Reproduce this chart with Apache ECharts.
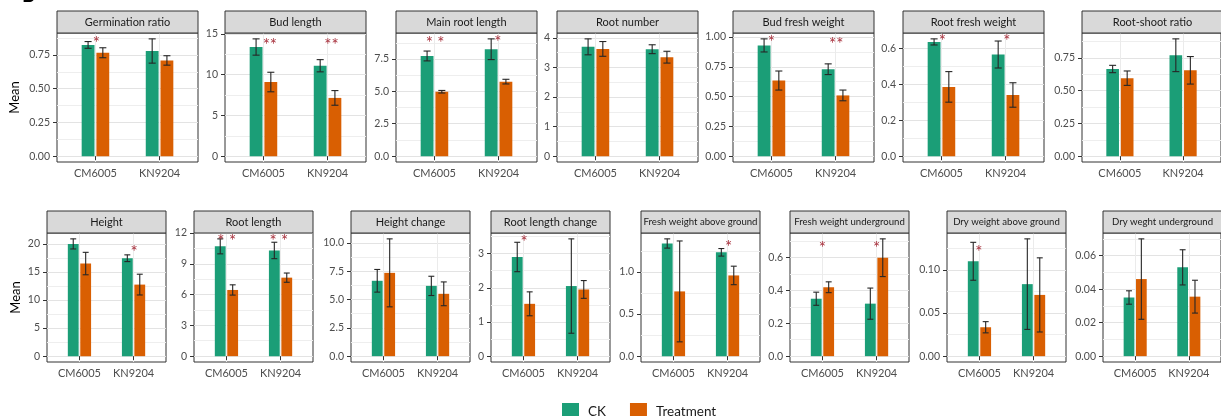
<!DOCTYPE html>
<html><head><meta charset="utf-8">
<script src="https://cdn.jsdelivr.net/npm/echarts@6/dist/echarts.min.js"></script>
<style>html,body{margin:0;padding:0;background:#fff}#c{width:1221px;height:416px}</style>
</head><body><div id="c"></div>
<script>
// ---------------- data ----------------
const categories = ['CM6005', 'KN9204'];
const groups = ['CK', 'Treatment'];
const panelTitles = ['Germination ratio', 'Bud length', 'Main root length', 'Root number', 'Bud fresh weight',
  'Root fresh weight', 'Root-shoot ratio', 'Height', 'Root length', 'Height change', 'Root length change',
  'Fresh weight above ground', 'Fresh weight underground', 'Dry weight above ground', 'Dry weght underground'];
const ckMean = [[0.825, 0.78], [13.4, 11.1], [7.73, 8.25], [3.70, 3.62], [0.93, 0.73], [0.635, 0.565], [0.665, 0.77],
  [20.0, 17.45], [10.7, 10.3], [6.65, 6.2], [2.9, 2.05], [1.34, 1.235], [0.35, 0.32], [0.11, 0.0835], [0.035, 0.053]];
const ckSE = [[0.025, 0.09], [1.0, 0.75], [0.38, 0.8], [0.27, 0.15], [0.055, 0.045], [0.017, 0.075], [0.028, 0.125],
  [0.9, 0.6], [0.73, 0.8], [1.0, 0.85], [0.43, 1.38], [0.055, 0.045], [0.04, 0.095], [0.022, 0.0525], [0.004, 0.0105]];
const trtMean = [[0.767, 0.71], [9.1, 7.15], [4.97, 5.75], [3.63, 3.35], [0.635, 0.51], [0.385, 0.34], [0.595, 0.655],
  [16.5, 12.75], [6.45, 7.65], [7.35, 5.5], [1.53, 1.95], [0.77, 0.96], [0.42, 0.6], [0.0335, 0.071], [0.046, 0.0355]];
const trtSE = [[0.037, 0.035], [1.2, 0.9], [0.1, 0.18], [0.25, 0.2], [0.08, 0.045], [0.085, 0.068], [0.055, 0.105],
  [2.0, 1.85], [0.5, 0.45], [3.0, 1.05], [0.35, 0.26], [0.6, 0.11], [0.033, 0.115], [0.0065, 0.043], [0.024, 0.0098]];
const tickValues = [[0, 0.25, 0.5, 0.75], [0, 5, 10, 15], [0, 2.5, 5, 7.5], [0, 1, 2, 3, 4], [0, 0.25, 0.5, 0.75, 1],
  [0, 0.2, 0.4, 0.6], [0, 0.25, 0.5, 0.75], [0, 5, 10, 15, 20], [0, 3, 6, 9, 12], [0, 2.5, 5, 7.5, 10], [0, 1, 2, 3],
  [0, 0.5, 1], [0, 0.2, 0.4, 0.6], [0, 0.05, 0.1], [0, 0.02, 0.04, 0.06]];
const tickLabels = [['0.00', '0.25', '0.50', '0.75'], ['0', '5', '10', '15'], ['0.0', '2.5', '5.0', '7.5'],
  ['0', '1', '2', '3', '4'], ['0.00', '0.25', '0.50', '0.75', '1.00'], ['0.0', '0.2', '0.4', '0.6'],
  ['0.00', '0.25', '0.50', '0.75'], ['0', '5', '10', '15', '20'], ['0', '3', '6', '9', '12'],
  ['0.0', '2.5', '5.0', '7.5', '10.0'], ['0', '1', '2', '3'], ['0.0', '0.5', '1.0'], ['0.0', '0.2', '0.4', '0.6'],
  ['0.00', '0.05', '0.10'], ['0.00', '0.02', '0.04', '0.06']];
// significance marks: panel, x (axis units), y (data units), text
const sigPanel = [0, 1, 1, 2, 2, 4, 4, 5, 5, 7, 8, 8, 10, 11, 12, 12, 13];
const sigX = [1.015, 1.10, 2.06, 1.01, 1.99, 1.0, 2.01, 1.015, 2.02, 2.01, 1.005, 1.97, 1.01, 2.02, 1.0, 2.0, 0.99];
const sigY = [0.87, 14.2, 14.2, 9.05, 9.15, 0.997, 0.983, 0.663, 0.663, 19.4, 11.64, 11.64, 3.46, 1.35, 0.684, 0.684, 0.1264];
const sigText = ['*', '**', '**', '* *', '*', '*', '**', '*', '*', '*', '* *', '* *', '*', '*', '*', '*', '*'];

// ---------------- layout / style ----------------
const groupColors = ['#1B9E77', '#D95F02'];
const FONT = 'Lato';
const topLefts = [57, 225, 396, 557, 733, 903, 1082];
const botLefts = [47, 194, 351, 491, 641, 790, 947, 1103];
const panels = [];
topLefts.forEach(l => panels.push({left: l, top: 33, width: 141, height: 129}));
botLefts.forEach(l => panels.push({left: l, top: 233, width: 119, height: 129}));
const stripH = 22;
const stripFont = [11, 11, 11, 11, 11, 11, 11, 11, 11, 11, 11, 9.6, 9.6, 9.6, 9.6];
const dodge = [-0.115, 0.115];
const barW = 0.2, capW = 0.11;

const chart = echarts.init(document.getElementById('c'), null, {renderer: 'canvas'});
const grids = [], xAxes = [], yAxes = [], series = [], graphics = [];

panels.forEach((p, i) => {
  const means = [ckMean[i], trtMean[i]], ses = [ckSE[i], trtSE[i]];
  let M = 0;
  for (let g = 0; g < 2; g++) for (let k = 0; k < 2; k++) M = Math.max(M, means[g][k] + ses[g][k]);
  const lo = -0.05 * M, hi = 1.05 * M;
  const tv = tickValues[i];
  const step = tv[1] - tv[0];
  const minors = [];
  for (let k = 0; k < tv.length; k++) {
    const mv = tv[k] + step / 2;
    if (mv < hi) minors.push(mv);
  }
  grids.push({left: p.left, top: p.top, width: p.width, height: p.height, show: true,
    borderColor: '#333', borderWidth: 1, backgroundColor: '#fff', containLabel: false});
  xAxes.push({type: 'value', gridIndex: i, min: 0.4, max: 2.6,
    axisLine: {show: false},
    axisTick: {show: true, length: 4, customValues: [1, 2], lineStyle: {color: '#333', width: 1}},
    axisLabel: {show: true, customValues: [1, 2], margin: 6, color: '#4d4d4d', fontFamily: FONT, fontSize: 11,
      formatter: v => categories[Math.round(v) - 1]},
    splitLine: {show: true, lineStyle: {color: '#ebebeb', width: 1}}
  });
  const isFirst = (i === 0 || i === 7);
  yAxes.push({type: 'value', gridIndex: i, min: lo, max: hi, position: 'left',
    name: isFirst ? 'Mean' : '', nameLocation: 'middle', nameRotate: 90, nameGap: i === 0 ? 36 : 25,
    nameTextStyle: {fontFamily: FONT, fontSize: 13, color: '#000'},
    axisLine: {show: false},
    axisTick: {show: true, length: 4, customValues: tv, lineStyle: {color: '#333', width: 1}},
    axisLabel: {show: true, customValues: tv, margin: 7, color: '#4d4d4d', fontFamily: FONT, fontSize: 10.5,
      formatter: v => { const j = tv.findIndex(t => Math.abs(t - v) < 1e-9); return j >= 0 ? tickLabels[i][j] : ''; }},
    splitLine: {show: true, lineStyle: {color: '#e3e3e3', width: 1}}
  });
  yAxes.push({type: 'value', gridIndex: i, min: lo, max: hi, position: 'right', show: true,
    axisLine: {show: false}, axisLabel: {show: false},
    axisTick: {show: false, customValues: minors},
    splitLine: {show: true, lineStyle: {color: '#eeeeee', width: 1}}
  });
  for (let g = 0; g < 2; g++) {
    series.push({
      type: 'custom', name: groups[g], xAxisIndex: i, yAxisIndex: 2 * i, z: 3,
      itemStyle: {color: groupColors[g]},
      data: categories.map((c, k) => [k + 1, means[g][k], ses[g][k]]),
      renderItem: (params, api) => {
        const x = api.value(0) + dodge[g];
        const m = api.value(1), s = api.value(2);
        const a = api.coord([x - barW / 2, m]);
        const b = api.coord([x + barW / 2, 0]);
        const t = api.coord([x, m + s]), bt = api.coord([x, m - s]);
        const cl = api.coord([x - capW / 2, m + s]), cr = api.coord([x + capW / 2, m + s]);
        const cl2 = api.coord([x - capW / 2, m - s]), cr2 = api.coord([x + capW / 2, m - s]);
        const ls = {stroke: '#262626', lineWidth: 1.1};
        return {type: 'group', children: [
          {type: 'rect', shape: {x: a[0], y: a[1], width: b[0] - a[0], height: b[1] - a[1]}, style: {fill: groupColors[g]}},
          {type: 'line', shape: {x1: t[0], y1: t[1], x2: bt[0], y2: bt[1]}, style: ls},
          {type: 'line', shape: {x1: cl[0], y1: cl[1], x2: cr[0], y2: cr[1]}, style: ls},
          {type: 'line', shape: {x1: cl2[0], y1: cl2[1], x2: cr2[0], y2: cr2[1]}, style: ls}
        ]};
      }
    });
  }
  // significance marks for this panel
  const idx = [];
  sigPanel.forEach((pp, j) => { if (pp === i) idx.push(j); });
  if (idx.length) {
    series.push({
      type: 'custom', name: 'sig' + i, xAxisIndex: i, yAxisIndex: 2 * i, z: 4,
      data: idx.map(j => [sigX[j], sigY[j], j]),
      renderItem: (params, api) => {
        const c = api.coord([api.value(0), api.value(1)]);
        return {type: 'text', x: c[0], y: c[1] + 5, style: {text: sigText[api.value(2)], fill: '#a8323e',
          font: '17px ' + FONT, align: 'center', verticalAlign: 'middle'}};
      }
    });
  }
  // strip
  graphics.push({type: 'rect', shape: {x: p.left, y: p.top - stripH, width: p.width, height: stripH},
    style: {fill: '#d9d9d9', stroke: '#333', lineWidth: 1}, z: 10});
  graphics.push({type: 'text', x: p.left + p.width / 2, y: p.top - stripH / 2,
    style: {text: panelTitles[i], fill: '#1a1a1a', font: stripFont[i] + 'px ' + FONT, align: 'center', verticalAlign: 'middle'}, z: 11});
});

graphics.push({type: 'text', x: 22, y: 6, style: {text: 'B', fill: '#000', font: 'bold 20px ' + FONT, align: 'left', verticalAlign: 'bottom'}, z: 11});

chart.setOption({
  animation: false,
  backgroundColor: '#fff',
  grid: grids, xAxis: xAxes, yAxis: yAxes, series: series,
  legend: {data: groups, left: 557, top: 398, icon: 'rect', itemWidth: 17, itemHeight: 17, itemGap: 24,
    textStyle: {fontFamily: FONT, fontSize: 13.5, color: '#1a1a1a', padding: [0, 0, 0, 4]}},
  graphic: graphics
});
</script></body></html>
